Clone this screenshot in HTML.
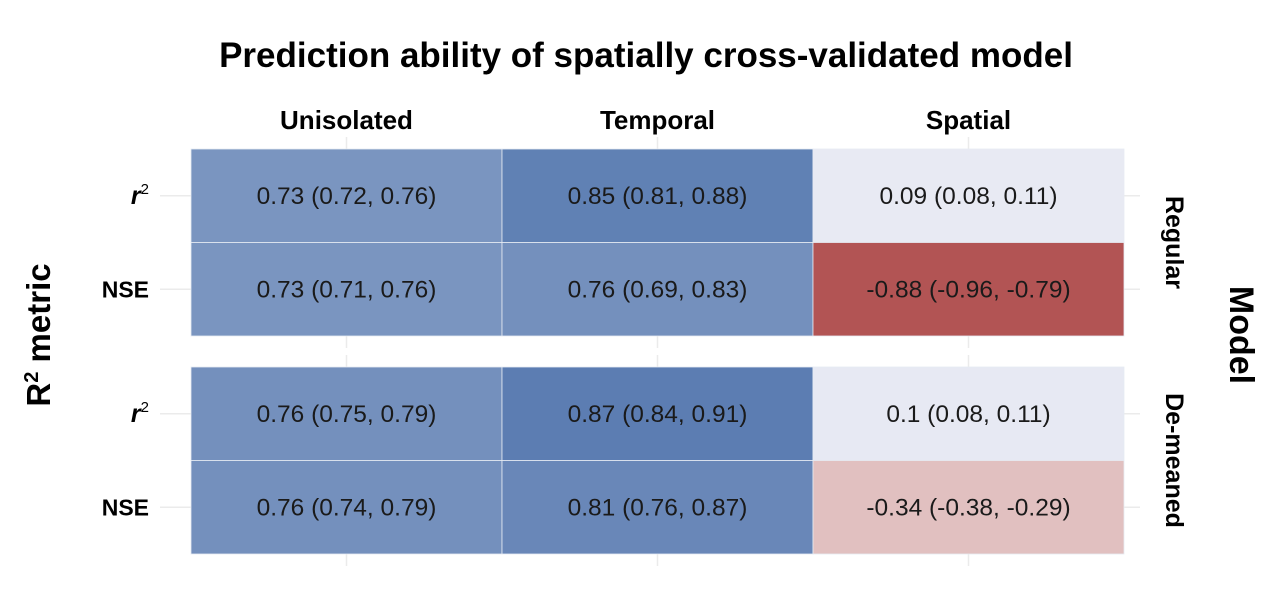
<!DOCTYPE html>
<html><head><meta charset="utf-8"><style>
body{margin:0;background:#fff;width:1275px;height:594px;overflow:hidden}
text{font-family:"Liberation Sans",sans-serif}
.yl{font-size:23px;font-weight:bold}
</style></head><body>
<svg id="chart" width="1275" height="594" xmlns="http://www.w3.org/2000/svg">
<text x="646" y="67" text-anchor="middle" font-size="35" font-weight="bold">Prediction ability of spatially cross-validated model</text>
<g id="grid"></g><g id="cells"></g><g id="labels"></g>
<text transform="translate(50,335) rotate(-90)" text-anchor="middle" font-size="33" font-weight="bold">R<tspan dy="-12" font-size="20">2</tspan><tspan dy="12"> metric</tspan></text>
<text transform="translate(1230,335) rotate(90)" text-anchor="middle" font-size="34" font-weight="bold">Model</text>
</svg>
<script>
const columns=["Unisolated","Temporal","Spatial"];
const rows=["r2","NSE"];
const models=["Regular","De-meaned"];
const values=[[[0.73,0.85,0.09],[0.73,0.76,-0.88]],[[0.76,0.87,0.10],[0.76,0.81,-0.34]]];
const labels=[[["0.73 (0.72, 0.76)","0.85 (0.81, 0.88)","0.09 (0.08, 0.11)"],["0.73 (0.71, 0.76)","0.76 (0.69, 0.83)","-0.88 (-0.96, -0.79)"]],
[["0.76 (0.75, 0.79)","0.87 (0.84, 0.91)","0.1 (0.08, 0.11)"],["0.76 (0.74, 0.79)","0.81 (0.76, 0.87)","-0.34 (-0.38, -0.29)"]]];
const NS="http://www.w3.org/2000/svg";
const x0=191,cw=311,panelTop=[149,367],rh=93.5;
function xPos(c){return x0+c*cw;}
function yPos(p,r){return panelTop[p]+r*rh;}
function mix(a,b,t){return a.map((v,i)=>Math.round(v+(b[i]-v)*t));}
function color(v){
 if(v>=0){return "rgb("+mix([240,240,247],[85,120,175],Math.pow(Math.min(1,v/0.9),1.3)).join(",")+")";}
 return "rgb("+mix([244,236,236],[178,84,84],Math.pow(Math.min(1,-v/0.88),1.3)).join(",")+")";}
function mk(tag,attrs,parent){const e=document.createElementNS(NS,tag);for(const k in attrs)e.setAttribute(k,attrs[k]);document.getElementById(parent).appendChild(e);return e;}
for(let p=0;p<2;p++){
 const pt=panelTop[p],pb=pt+2*rh;
 for(let c=0;c<3;c++){const g=mk("line",{x1:xPos(c)+cw/2,x2:xPos(c)+cw/2,y1:pt-12,y2:pb+12,stroke:"#ebebeb","stroke-width":1.5},"grid");
  
  }
 for(let r=0;r<2;r++){const g=mk("line",{x1:160,x2:1140,y1:yPos(p,r)+rh/2,y2:yPos(p,r)+rh/2,stroke:"#ebebeb","stroke-width":1.5},"grid");
  
  
  for(let c=0;c<3;c++){
   const rc=mk("rect",{x:xPos(c),y:yPos(p,r),width:cw,height:rh,fill:color(values[p][r][c]),stroke:"#e6ebf3","stroke-width":0.8},"cells");
   
   
   const t=mk("text",{x:xPos(c)+cw/2,y:yPos(p,r)+rh/2+8,"text-anchor":"middle","font-size":24.5,fill:"#1a1a1a"},"labels");
   t.textContent=labels[p][r][c];
   
   }
  const yl=mk("text",{x:149,y:yPos(p,r)+rh/2+8,"text-anchor":"end","class":"yl"},"labels");
  if(rows[r]==="r2"){
   const a=document.createElementNS(NS,"tspan");a.setAttribute("font-style","italic");a.setAttribute("style","font-size:25px");a.textContent="r";yl.appendChild(a);
   const b=document.createElementNS(NS,"tspan");b.setAttribute("dy","-10");b.setAttribute("style","font-size:15px;font-weight:normal");b.textContent="2";yl.appendChild(b);
  }else yl.textContent=rows[r];
  
  }
 const s=mk("text",{transform:"translate("+1166+","+(pt+rh)+") rotate(90)","text-anchor":"middle","font-size":25,"font-weight":"bold"},"labels");
 s.textContent=models[p];
 
 
}
for(let c=0;c<3;c++){const t=mk("text",{x:xPos(c)+cw/2,y:129,"text-anchor":"middle","font-size":26,"font-weight":"bold"},"labels");
 t.textContent=columns[c];
 
 }
</script>
</body></html>
